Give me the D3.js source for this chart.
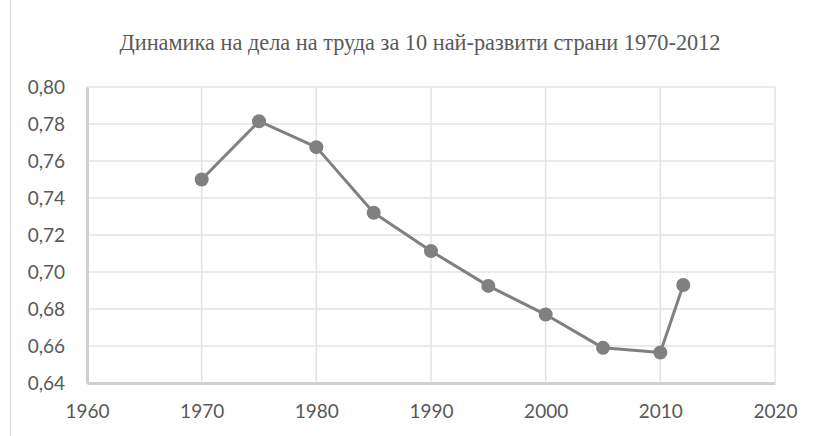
<!DOCTYPE html>
<html><head><meta charset="utf-8">
<script src="https://cdn.jsdelivr.net/npm/d3@7"></script>
<style>body{margin:0;background:#fff}</style>
</head><body><svg id="c" width="814" height="436"></svg>
<script>
const years = [1970, 1975, 1980, 1985, 1990, 1995, 2000, 2005, 2010, 2012];
const values = [0.750, 0.7815, 0.7675, 0.732, 0.7113, 0.6925, 0.677, 0.659, 0.6565, 0.693];
const xTicks = [1960, 1970, 1980, 1990, 2000, 2010, 2020];
const yTicks = [0.64, 0.66, 0.68, 0.70, 0.72, 0.74, 0.76, 0.78, 0.80];
const title = "Динамика на дела на труда за 10 най-развити страни 1970-2012";

const svg = d3.select("#c");
const x = d3.scaleLinear().domain([1960, 2020]).range([87, 775]);
const y = d3.scaleLinear().domain([0.64, 0.80]).range([383, 87]);
const fmt = d => d.toFixed(2).replace(".", ",");

svg.append("rect").attr("x", 10.5).attr("y", -1).attr("width", 820).attr("height", 440)
  .attr("fill", "none").attr("stroke", "#d9d9d9");

svg.append("text").attr("x", 420).attr("y", 50).attr("text-anchor", "middle")
  .attr("font-family", "Liberation Serif").attr("font-size", 22.3).attr("fill", "#595959").text(title);

// gridlines
svg.append("g").selectAll("line").data(yTicks).join("line")
  .attr("x1", x(1960)).attr("x2", x(2020)).attr("y1", d => y(d)).attr("y2", d => y(d))
  .attr("stroke", "#e3e3e3").attr("stroke-width", 1.5);
svg.append("g").selectAll("line").data(xTicks).join("line")
  .attr("y1", y(0.64)).attr("y2", y(0.80)).attr("x1", d => x(d)).attr("x2", d => x(d))
  .attr("stroke", "#e3e3e3").attr("stroke-width", 1.5);

// axes
const yAxis = d3.axisLeft(y).tickValues(yTicks).tickFormat(fmt).tickSize(0).tickPadding(22);
const gy = svg.append("g").attr("transform", `translate(${x(1960)},0)`).call(yAxis);
const xAxis = d3.axisBottom(x).tickValues(xTicks).tickFormat(d3.format("d")).tickSize(0).tickPadding(22);
const gx = svg.append("g").attr("transform", `translate(0,${y(0.64)})`).call(xAxis);
[gx, gy].forEach(g => {
  g.select(".domain").attr("stroke", "#d0d0d0").attr("stroke-width", 3);
  g.selectAll("text").attr("font-family", "Lato").attr("font-size", 19).attr("fill", "#595959");
});

const line = d3.line().x((d, i) => x(years[i])).y(d => y(d));
svg.append("path").datum(values).attr("d", line).attr("fill", "none")
  .attr("stroke", "#808080").attr("stroke-width", 3).attr("stroke-linejoin", "round");
svg.append("g").selectAll("circle").data(values).join("circle")
  .attr("cx", (d, i) => x(years[i])).attr("cy", d => y(d)).attr("r", 7).attr("fill", "#808080");
</script></body></html>
